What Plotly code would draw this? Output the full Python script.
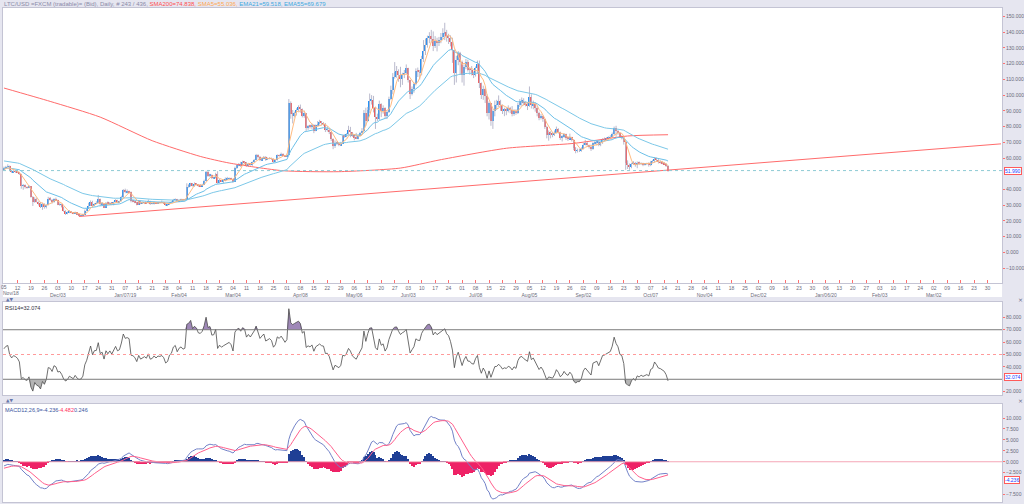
import numpy as np
import pandas as pd
import plotly.graph_objects as go

# ---------------- data (daily, 2018-11-05 .. 2019-10-16) ----------------
START_DATE = "2018-11-05"
OPEN_FIRST = 53.0
PRE_CLOSE = [52.0, 52.4, 52.6, 52.9]   # closes before the first bar (for SMA5 warm-up)

CLOSE = [
    # Nov 2018
    53.6, 54.5, 54.8, 52.0, 51.0, 51.7, 51.4, 50.9, 49.8, 42.5, 42.8, 41.5, 41.2, 42.0, 35.5, 31.8, 34.2, 32.0, 31.2, 28.7, 30.8, 28.6, 30.0, 34.0, 33.6, 31.8,
    # Dec
    33.8, 33.2, 30.4, 30.6, 28.9, 26.1, 24.7, 25.1, 26.0, 25.2, 24.6, 25.4, 24.0, 23.3, 23.4, 24.0, 26.6, 27.8, 29.7, 32.3, 29.6, 31.0, 31.1, 34.0, 30.5, 31.0, 28.5, 31.6, 30.5, 31.6, 30.5,
    # Jan 2019
    31.9, 33.4, 32.0, 32.4, 35.0, 39.5, 38.2, 38.6, 38.3, 32.8, 32.6, 31.9, 30.3, 32.4, 31.0, 31.5, 31.8, 31.3, 32.6, 30.9, 31.1, 31.8, 31.2, 31.7, 31.6, 31.8, 31.3, 30.0, 30.3, 31.6, 32.0,
    # Feb
    33.4, 33.8, 32.6, 33.4, 33.7, 33.3, 33.5, 41.6, 42.2, 43.9, 42.3, 43.5, 43.1, 42.2, 42.1, 42.9, 45.4, 50.9, 48.6, 49.2, 47.1, 47.3, 50.1, 44.4, 45.9, 45.2, 45.8, 46.3,
    # Mar
    47.0, 47.2, 46.6, 44.9, 53.5, 55.4, 56.1, 55.3, 57.6, 57.2, 55.0, 56.4, 55.7, 57.3, 58.9, 62.0, 60.6, 58.6, 59.8, 60.9, 58.9, 59.5, 60.0, 59.5, 57.7, 58.6, 61.9, 61.5, 62.5, 61.8, 61.0,
    # Apr
    62.0, 95.0, 88.0, 87.0, 88.9, 90.6, 92.3, 91.2, 86.6, 88.4, 79.0, 80.4, 79.7, 81.3, 77.4, 80.8, 81.6, 82.9, 82.0, 81.8, 77.9, 78.0, 76.3, 71.9, 67.6, 69.8, 69.2, 68.2, 69.2, 74.0,
    # May
    73.6, 75.0, 77.5, 76.3, 74.0, 73.0, 72.4, 74.1, 76.0, 77.4, 88.4, 83.8, 90.5, 96.5, 97.0, 91.8, 86.0, 84.6, 94.5, 90.2, 91.5, 86.4, 89.2, 97.5, 103.2, 111.8, 114.7, 115.2, 112.5, 110.5, 112.7,
    # Jun
    114.0, 117.0, 109.3, 100.8, 103.8, 106.8, 115.5, 114.5, 114.2, 123.0, 128.0, 132.0, 136.5, 137.5, 135.8, 131.0, 134.5, 133.0, 134.8, 137.0, 139.2, 140.0, 137.5, 136.5, 133.5, 128.5, 113.8, 122.5, 126.8, 121.0,
    # Jul
    112.8, 118.0, 121.2, 116.2, 116.0, 113.5, 113.0, 117.3, 119.8, 107.5, 99.8, 104.0, 99.5, 88.5, 94.8, 83.8, 90.0, 94.0, 94.2, 96.2, 93.5, 90.0, 91.0, 90.2, 91.8, 90.8, 88.0, 90.0, 88.5, 93.5, 96.0,
    # Aug
    96.5, 95.0, 94.0, 93.0, 99.0, 93.5, 94.5, 92.0, 88.8, 85.5, 86.8, 84.5, 80.0, 74.5, 76.0, 75.5, 74.8, 76.2, 78.5, 76.5, 72.8, 73.5, 75.0, 73.0, 72.0, 73.2, 71.5, 66.5, 64.5, 65.0, 65.0,
    # Sep
    66.0, 68.5, 69.5, 68.0, 67.0, 65.5, 69.5, 70.0, 70.2, 68.2, 70.0, 71.8, 72.0, 72.4, 73.0, 73.2, 75.0, 78.8, 77.0, 76.0, 73.5, 73.0, 70.0, 57.0, 55.5, 54.5, 56.2, 57.0, 55.5, 57.0,
    # Oct
    56.2, 56.8, 56.0, 56.2, 56.5, 55.8, 57.5, 57.8, 59.5, 58.5, 57.2, 57.0, 56.5, 56.0, 54.7, 51.99,
]

HIGH = [
    54.5, 55.0, 56.0, 55.2, 52.4, 52.2, 52.0, 52.0, 51.2, 50.0, 43.5, 43.2, 42.0, 42.8, 42.2, 35.8, 35.0, 34.8, 32.4, 32.0, 31.5, 31.2, 30.6, 35.3, 35.2, 33.9,
    34.4, 34.8, 33.5, 31.6, 30.8, 29.2, 26.8, 26.0, 26.8, 26.3, 25.4, 25.9, 25.5, 24.2, 23.9, 24.6, 27.2, 28.2, 31.5, 33.0, 32.8, 31.3, 32.5, 36.5, 34.2, 32.0, 31.2, 32.0, 32.4, 32.0, 31.8,
    32.2, 33.8, 33.4, 32.8, 36.0, 40.2, 40.5, 40.0, 39.2, 38.7, 33.4, 32.8, 32.2, 32.9, 32.8, 32.2, 32.0, 32.0, 33.6, 32.8, 31.4, 32.2, 32.0, 32.0, 31.9, 33.0, 32.2, 31.4, 30.6, 32.0, 32.5,
    34.0, 34.3, 34.0, 33.8, 34.1, 34.0, 34.0, 43.9, 43.4, 44.2, 44.1, 44.5, 44.0, 43.5, 43.4, 43.6, 46.2, 51.8, 52.4, 50.0, 49.6, 47.8, 50.6, 51.6, 46.7, 46.0, 46.5, 47.6,
    48.0, 47.6, 47.5, 46.9, 54.5, 56.2, 56.8, 57.6, 58.3, 57.9, 57.5, 56.9, 56.9, 57.8, 59.4, 62.6, 62.4, 61.3, 60.2, 61.3, 61.2, 60.3, 60.5, 60.2, 59.8, 58.9, 62.3, 62.2, 63.4, 63.0, 62.0,
    62.8, 97.5, 96.0, 90.5, 89.5, 91.6, 93.5, 94.0, 91.5, 90.2, 88.6, 81.0, 81.2, 82.0, 81.5, 81.3, 83.5, 84.3, 83.5, 82.8, 82.2, 80.2, 78.4, 76.8, 72.5, 71.2, 70.6, 70.0, 70.3, 74.8,
    75.0, 75.8, 80.5, 79.8, 76.5, 74.2, 76.0, 74.8, 76.6, 79.0, 90.5, 92.0, 92.5, 101.0, 100.0, 99.5, 92.5, 88.2, 96.5, 94.8, 93.5, 92.3, 90.0, 99.0, 106.0, 114.0, 121.0, 118.5, 116.4, 118.0, 114.2,
    116.0, 119.5, 117.4, 109.8, 105.5, 108.0, 117.0, 117.5, 116.0, 125.0, 135.0, 136.0, 137.8, 140.0, 141.5, 140.5, 137.5, 136.5, 137.0, 139.5, 142.5, 146.0, 141.5, 139.0, 138.0, 136.5, 129.0, 125.0, 128.0, 127.5,
    122.0, 119.5, 123.0, 122.5, 117.8, 118.5, 115.0, 118.2, 122.0, 122.0, 108.0, 106.0, 104.8, 100.5, 96.0, 95.0, 91.0, 96.5, 97.0, 99.8, 97.0, 94.0, 92.0, 92.0, 93.5, 92.5, 93.0, 91.0, 91.0, 95.0, 97.5,
    98.5, 98.0, 96.0, 95.5, 105.5, 100.5, 96.5, 95.5, 93.0, 89.5, 88.0, 87.0, 85.0, 80.5, 77.5, 77.0, 76.5, 77.5, 80.0, 79.0, 76.8, 74.5, 75.8, 75.5, 73.5, 75.5, 73.5, 72.0, 67.0, 66.0, 66.0,
    66.8, 69.5, 71.5, 70.5, 68.5, 68.5, 70.0, 71.5, 71.0, 70.8, 70.5, 72.5, 73.0, 73.2, 73.8, 74.5, 76.2, 80.0, 80.5, 78.0, 76.5, 74.5, 73.5, 70.5, 58.5, 56.5, 57.0, 58.0, 57.5, 57.8,
    57.8, 57.2, 57.0, 56.8, 57.0, 57.2, 58.2, 58.8, 60.5, 60.2, 59.5, 58.5, 58.2, 57.5, 56.8, 55.5,
]

LOW = [
    52.6, 53.3, 54.0, 51.6, 50.5, 50.8, 50.6, 50.4, 49.2, 40.5, 39.8, 40.6, 40.5, 40.8, 34.8, 29.5, 31.5, 31.7, 29.8, 28.2, 27.0, 27.8, 27.9, 29.8, 32.8, 31.0,
    31.5, 32.6, 30.0, 29.6, 28.5, 25.8, 23.8, 24.2, 24.9, 24.8, 24.3, 24.5, 23.7, 22.9, 22.8, 23.2, 23.9, 26.1, 27.6, 29.5, 29.0, 29.4, 30.8, 31.0, 29.8, 30.0, 28.2, 28.4, 30.2, 30.3, 30.0,
    29.9, 31.6, 31.6, 31.4, 32.3, 34.6, 37.6, 37.5, 37.6, 31.8, 31.8, 31.2, 29.9, 30.2, 30.6, 30.8, 30.7, 30.9, 31.1, 30.2, 30.5, 30.4, 31.0, 30.9, 31.2, 31.4, 30.8, 29.5, 29.4, 30.1, 31.3,
    31.8, 33.0, 32.3, 32.4, 33.2, 32.6, 33.0, 33.3, 41.0, 41.8, 41.9, 41.7, 42.6, 41.6, 41.9, 42.0, 42.8, 45.2, 48.0, 47.8, 46.6, 46.6, 47.0, 43.6, 44.2, 44.8, 44.0, 45.5,
    46.2, 46.4, 46.0, 44.2, 44.8, 53.0, 54.7, 54.3, 55.0, 56.0, 54.5, 54.4, 55.2, 55.0, 56.9, 58.6, 59.6, 58.0, 58.2, 59.3, 58.2, 58.7, 59.2, 58.8, 56.9, 57.2, 58.4, 60.8, 61.2, 61.3, 60.6,
    60.6, 61.8, 85.0, 82.0, 85.8, 87.0, 89.5, 88.8, 85.8, 85.6, 77.2, 77.9, 78.8, 78.5, 75.8, 77.0, 80.2, 81.2, 80.8, 80.6, 76.5, 76.8, 75.2, 70.8, 65.6, 66.4, 68.2, 67.5, 67.6, 68.9,
    72.8, 73.2, 74.8, 73.2, 73.4, 71.2, 72.0, 71.8, 73.8, 75.5, 77.0, 80.5, 83.0, 88.5, 94.0, 89.0, 78.5, 83.4, 84.2, 86.0, 88.2, 85.2, 84.8, 88.6, 96.8, 100.5, 110.5, 111.0, 108.5, 105.0, 106.5,
    110.8, 113.2, 108.0, 97.5, 99.8, 101.5, 106.2, 111.5, 110.0, 112.5, 121.0, 125.5, 130.2, 133.0, 133.5, 128.0, 130.0, 127.8, 131.2, 133.0, 135.5, 135.0, 134.0, 132.5, 131.0, 120.5, 106.5, 108.0, 119.0, 113.0,
    108.0, 106.0, 116.5, 115.0, 113.0, 112.5, 110.8, 111.8, 113.5, 104.5, 97.5, 97.0, 95.0, 86.5, 84.5, 80.5, 78.5, 86.5, 90.5, 92.5, 90.0, 88.0, 86.6, 87.2, 89.0, 88.5, 86.5, 86.8, 87.5, 88.0, 92.5,
    93.2, 93.5, 92.8, 90.5, 92.5, 91.5, 91.0, 89.5, 86.5, 84.0, 84.5, 83.0, 78.5, 72.5, 71.0, 72.5, 73.2, 74.0, 75.5, 75.5, 71.5, 70.5, 72.8, 71.5, 70.8, 71.8, 70.5, 65.0, 63.0, 63.5, 63.8,
    64.0, 65.5, 68.0, 67.2, 66.0, 64.5, 65.2, 68.5, 68.0, 67.5, 67.5, 69.0, 70.8, 71.0, 71.8, 72.0, 72.8, 74.5, 73.5, 74.8, 73.0, 71.8, 68.5, 52.5, 53.0, 52.5, 53.5, 55.5, 54.5, 53.5,
    55.5, 55.5, 54.8, 55.2, 55.5, 54.5, 54.8, 56.8, 57.0, 57.5, 56.5, 56.5, 56.0, 55.8, 54.3, 51.2,
]

# SMA200 (sparse)
SMA200_DATES = ["2018-11-05", "2018-11-29", "2018-12-25", "2019-01-21", "2019-02-15", "2019-03-02",
                "2019-03-30", "2019-04-28", "2019-05-30", "2019-06-19", "2019-07-24", "2019-08-28",
                "2019-09-25", "2019-10-16"]
SMA200_VALS = [104.5, 96.0, 86.0, 71.0, 61.0, 56.8, 51.9, 51.3, 53.6, 58.7, 66.2, 69.3, 74.0, 74.8]

# support trend line end points
TREND_DATES = ["2018-12-14", "2020-04-06"]
TREND_VALS = [22.8, 69.0]

# indicator warm-up values read at the left edge
EMA21_SEED, EMA55_SEED = 53.5, 58.3
EMA12_SEED, EMA26_SEED, SIGNAL_SEED = 52.9, 54.0, -1.6
RSI_GAIN_SEED, RSI_LOSS_SEED = 0.85, 0.75

HEADER_VALUES = dict(sma200="74.838", sma5="55.036", ema21="59.518", ema55="69.679")
RSI_LAST, MACD_LAST, SIGNAL_LAST, HIST_LAST = 32.074, -4.236, -4.482, 0.246

MONTH_LABELS = {"2018-11-05": "Nov/18", "2018-12-03": "Dec/03", "2019-01-07": "Jan/07/19", "2019-02-04": "Feb/04",
                "2019-03-04": "Mar/04", "2019-04-08": "Apr/08", "2019-05-06": "May/06", "2019-06-03": "Jun/03",
                "2019-07-08": "Jul/08", "2019-08-05": "Aug/05", "2019-09-02": "Sep/02", "2019-10-07": "Oct/07",
                "2019-11-04": "Nov/04", "2019-12-02": "Dec/02", "2020-01-06": "Jan/06/20", "2020-02-03": "Feb/03",
                "2020-03-02": "Mar/02"}

PRICE_TICKS = [-10, 0, 10, 20, 30, 40, 60, 70, 80, 90, 100, 110, 120, 130, 140, 150]   # 50 hidden by price box
RSI_TICKS = [20, 40, 50, 60, 70, 80]                                                    # 30 hidden by value box
MACD_TICKS = [-7.5, -2.5, 0.0, 2.5, 5.0, 7.5, 10.0]                                     # -5 hidden by value box

# ---------------- derived series ----------------
dates = pd.date_range(START_DATE, periods=len(CLOSE), freq="D")
close = np.array(CLOSE, float)
opn = np.r_[OPEN_FIRST, close[:-1]]
high = np.maximum(np.array(HIGH, float), np.maximum(opn, close))
low = np.minimum(np.array(LOW, float), np.minimum(opn, close))

sma5 = pd.Series(np.r_[PRE_CLOSE, close]).rolling(5).mean().values[len(PRE_CLOSE):]


def ema(vals, n, seed):
    a = 2.0 / (n + 1)
    e = seed
    out = []
    for v in vals:
        e = e + a * (v - e)
        out.append(e)
    return np.array(out)


ema21 = ema(close, 21, EMA21_SEED)
ema55 = ema(close, 55, EMA55_SEED)

ag, al = RSI_GAIN_SEED, RSI_LOSS_SEED
prev = PRE_CLOSE[-1]
rsi = []
for c in close:
    ch = c - prev
    prev = c
    ag = (ag * 13 + max(ch, 0)) / 14
    al = (al * 13 + max(-ch, 0)) / 14
    rsi.append(100 - 100 / (1 + ag / al))
rsi = np.array(rsi)

macd = ema(close, 12, EMA12_SEED) - ema(close, 26, EMA26_SEED)
signal = ema(macd, 9, SIGNAL_SEED)
hist = macd - signal

# ---------------- figure ----------------
W, H = 1024, 504
X0, X1 = 3, 1002


def py(px):  # pixel row -> paper y
    return 1 - px / H


def pxx(px):
    return px / W


BG = "#e6e6f0"
UP, DN = "#2391f5", "#f25a5a"
WICK = "#b9b9cc"
LABEL_GREY = "#6a6a7a"

fig = go.Figure()

# wicks
wx, wy = [], []
for d, h, l in zip(dates, high, low):
    wx += [d, d, None]
    wy += [l, h, None]
fig.add_trace(go.Scatter(x=wx, y=wy, mode="lines", line=dict(color=WICK, width=1),
                         hoverinfo="skip", xaxis="x", yaxis="y"))
# bodies
fig.add_trace(go.Bar(x=dates, base=opn, y=close - opn, width=0.72 * 86400000,
                     marker=dict(color=[UP if c >= o else DN for o, c in zip(opn, close)], line=dict(width=0)),
                     xaxis="x", yaxis="y"))
# moving averages
fig.add_trace(go.Scatter(x=pd.to_datetime(SMA200_DATES), y=SMA200_VALS, mode="lines",
                         line=dict(color="#ff6b6b", width=1, shape="spline", smoothing=0.6), xaxis="x", yaxis="y"))
fig.add_trace(go.Scatter(x=pd.to_datetime(TREND_DATES), y=TREND_VALS, mode="lines",
                         line=dict(color="#ff6b6b", width=1), xaxis="x", yaxis="y"))
fig.add_trace(go.Scatter(x=dates, y=ema55, mode="lines", line=dict(color="#7cc8e8", width=1), xaxis="x", yaxis="y"))
fig.add_trace(go.Scatter(x=dates, y=ema21, mode="lines", line=dict(color="#6cc0e8", width=1), xaxis="x", yaxis="y"))
fig.add_trace(go.Scatter(x=dates, y=sma5, mode="lines", line=dict(color="#ffbb80", width=1), xaxis="x", yaxis="y"))

# RSI fills
fig.add_trace(go.Scatter(x=dates, y=[70] * len(dates), mode="lines", line=dict(width=0), xaxis="x2", yaxis="y2"))
fig.add_trace(go.Scatter(x=dates, y=np.maximum(rsi, 70), mode="lines", line=dict(width=0), fill="tonexty",
                         fillcolor="#9f88b8", xaxis="x2", yaxis="y2"))
fig.add_trace(go.Scatter(x=dates, y=[30] * len(dates), mode="lines", line=dict(width=0), xaxis="x2", yaxis="y2"))
fig.add_trace(go.Scatter(x=dates, y=np.minimum(rsi, 30), mode="lines", line=dict(width=0), fill="tonexty",
                         fillcolor="#b4b4b4", xaxis="x2", yaxis="y2"))
fig.add_trace(go.Scatter(x=dates, y=rsi, mode="lines", line=dict(color="#4a4a4a", width=0.8), xaxis="x2", yaxis="y2"))

# MACD
fig.add_trace(go.Bar(x=dates, y=hist, width=0.55 * 86400000,
                     marker=dict(color=["#1f3f95" if v >= 0 else "#ee2266" for v in hist], line=dict(width=0)),
                     xaxis="x3", yaxis="y3"))
fig.add_trace(go.Scatter(x=dates, y=macd, mode="lines", line=dict(color="#7282c8", width=1), xaxis="x3", yaxis="y3"))
fig.add_trace(go.Scatter(x=dates, y=signal, mode="lines", line=dict(color="#ff5f8c", width=1), xaxis="x3", yaxis="y3"))

# axes
XR = [pd.Timestamp("2018-11-04 12:00"), pd.Timestamp("2020-04-06 12:00")]
mondays = pd.date_range("2018-11-05", "2020-03-30", freq="7D")
ticktext = []
first_day, first_month = None, None
for i, m in enumerate(mondays):
    k = m.strftime("%Y-%m-%d")
    t = m.strftime("%d")
    lab = MONTH_LABELS.get(k)
    if i == 0:      # the first label hugs the left edge: drawn separately below
        first_day, first_month = t, lab
        ticktext.append("")
        continue
    ticktext.append(t + "<br>" + lab if lab else t)

TICKFONT = dict(family="Liberation Sans, Arial, sans-serif", size=5, color=LABEL_GREY)
dom = [pxx(X0), pxx(X1)]
common_x = dict(domain=dom, range=XR, showgrid=False, zeroline=False, showline=True, mirror=True,
                linecolor="#c4c4d4", linewidth=1)
common_y = dict(side="right", showgrid=False, zeroline=False, showline=True, mirror=True,
                linecolor="#c4c4d4", linewidth=1, ticks="outside", ticklen=2, tickcolor="#ff7070",
                tickformat=".3f", tickfont=TICKFONT, automargin=False)

fig.update_layout(
    width=W, height=H, margin=dict(l=0, r=0, t=0, b=0, pad=0),
    paper_bgcolor=BG, plot_bgcolor="white", showlegend=False, barmode="overlay", bargap=0,
    xaxis=dict(**common_x, anchor="y", tickvals=mondays, ticktext=ticktext, ticks="inside", tickangle=0,
               ticklen=3, tickcolor="#ff7070", tickfont=TICKFONT, automargin=False),
    yaxis=dict(**common_y, domain=[py(283), py(8)], range=[-19.5, 155.4], tickvals=PRICE_TICKS, anchor="x"),
    xaxis2=dict(**common_x, anchor="y2", matches="x", showticklabels=False),
    yaxis2=dict(**common_y, domain=[py(395), py(302)], range=[17.3, 92.4], tickvals=RSI_TICKS, anchor="x2"),
    xaxis3=dict(**common_x, anchor="y3", matches="x", showticklabels=False),
    yaxis3=dict(**common_y, domain=[py(502), py(404)], range=[-9.2, 13.2], tickvals=MACD_TICKS, anchor="x3"),
)

shapes = [
    # white band under the main panel for the date labels
    dict(type="rect", xref="paper", yref="paper", x0=pxx(X0), x1=pxx(X1), y0=py(297), y1=py(283),
         fillcolor="white", line=dict(width=0), layer="below"),
    # last price dotted line
    dict(type="line", xref="x domain", yref="y", x0=0, x1=1, y0=close[-1], y1=close[-1],
         line=dict(color="#8ecad4", width=1, dash="dot")),
    # RSI levels
    dict(type="line", xref="x2 domain", yref="y2", x0=0, x1=1, y0=70, y1=70, line=dict(color="#7a7a7a", width=1)),
    dict(type="line", xref="x2 domain", yref="y2", x0=0, x1=1, y0=30, y1=30, line=dict(color="#7a7a7a", width=1)),
    dict(type="line", xref="x2 domain", yref="y2", x0=0, x1=1, y0=50, y1=50,
         line=dict(color="#ff9a9a", width=1, dash="dot")),
    # MACD zero line
    dict(type="line", xref="x3 domain", yref="y3", x0=0, x1=1, y0=0, y1=0, line=dict(color="#f4a6b6", width=1)),
]
fig.update_layout(shapes=shapes)

HF = "Liberation Sans, Arial, sans-serif"
ann = []
header = ('<span style="color:#8a8aa8">LTC/USD =FXCM (tradable)= (Bid), Daily, # 243 / 436, </span>'
          f'<span style="color:#ff5050">SMA200={HEADER_VALUES["sma200"]}, </span>'
          f'<span style="color:#ffa850">SMA5={HEADER_VALUES["sma5"]}, </span>'
          f'<span style="color:#40a8e0">EMA21={HEADER_VALUES["ema21"]}, EMA55={HEADER_VALUES["ema55"]}</span>')
ann.append(dict(xref="paper", yref="paper", x=pxx(2), y=py(4.5), xanchor="left", yanchor="middle",
                text=header, showarrow=False, font=dict(family=HF, size=6)))
# first date label pair at the left edge
ann.append(dict(xref="x", yref="paper", x=mondays[0], y=py(287), xanchor="center", yanchor="middle",
                text=first_day, showarrow=False, font=TICKFONT))
ann.append(dict(xref="paper", yref="paper", x=pxx(0.5), y=py(292.5), xanchor="left", yanchor="middle",
                text=first_month, showarrow=False, font=TICKFONT))
ann.append(dict(xref="paper", yref="paper", x=pxx(3), y=py(303), xanchor="left", yanchor="top",
                text=f"RSI14={RSI_LAST:.3f}", showarrow=False, font=dict(family=HF, size=5.5, color="#303040")))
ann.append(dict(xref="paper", yref="paper", x=pxx(3), y=py(405), xanchor="left", yanchor="top",
                text=(f'<span style="color:#3a55a0">MACD12,26,9={MACD_LAST:.3f}</span>'
                      f'<span style="color:#ff3060">{SIGNAL_LAST:.3f}</span>'
                      f'<span style="color:#3a55a0">{HIST_LAST:.3f}</span>'),
                showarrow=False, font=dict(family=HF, size=5.5)))
for yy in (299.0, 400.0):
    ann.append(dict(xref="paper", yref="paper", x=pxx(4), y=py(yy), xanchor="left", yanchor="middle",
                    text="▲▼", showarrow=False, font=dict(family="DejaVu Sans", size=4.5, color="#6677aa")))
    ann.append(dict(xref="paper", yref="paper", x=pxx(1020), y=py(yy), xanchor="center", yanchor="middle",
                    text="×", showarrow=False, font=dict(family="DejaVu Sans", size=6, color="#6a6a88")))
# value boxes on the right axes
for yref, val in (("y", close[-1]), ("y2", RSI_LAST), ("y3", MACD_LAST)):
    ann.append(dict(xref="paper", yref=yref, x=pxx(1003.5), y=val, xanchor="left", yanchor="middle",
                    text=f"{val:.3f}", showarrow=False, bgcolor="white", bordercolor="#ff5a5a",
                    borderwidth=1, borderpad=0, font=dict(family=HF, size=5, color="#2040ff")))
fig.update_layout(annotations=ann)

fig.write_html("out.html", config={"displayModeBar": False},
               post_script="document.body.style.margin='0px';document.body.style.overflow='hidden';")
